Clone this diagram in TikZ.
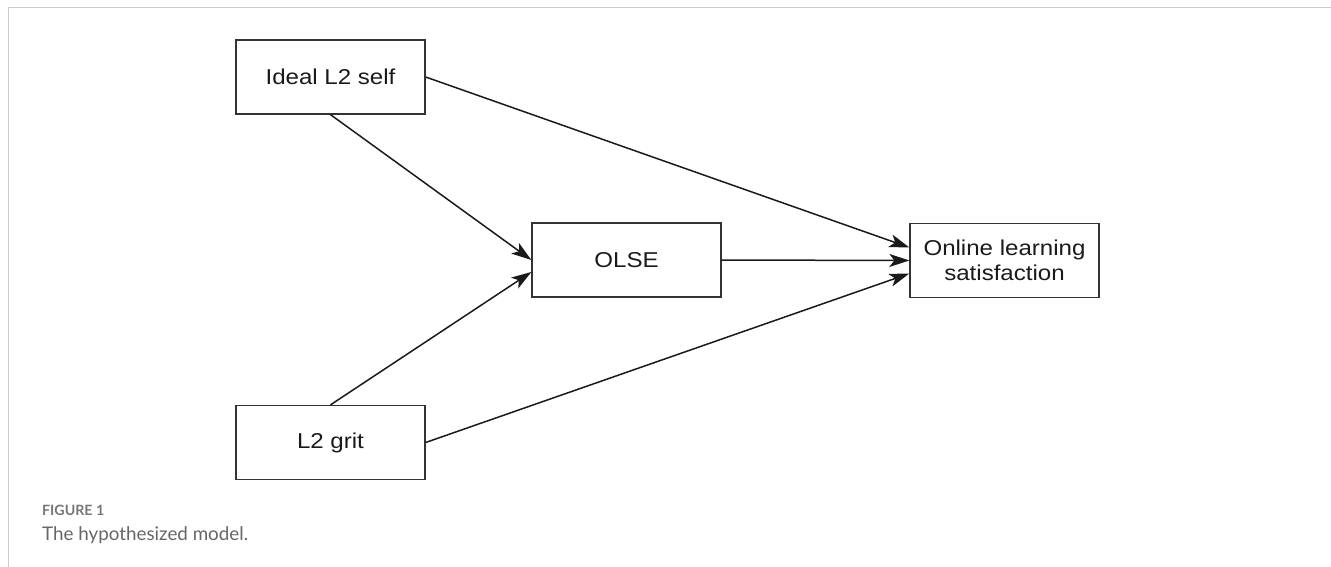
\documentclass[tikz,border=0pt]{standalone}
\usepackage{fontspec}
\usetikzlibrary{arrows.meta,calc}
\newfontfamily\nodefont[FakeStretch=1.12]{Liberation Sans}
\newfontfamily\capfont{Lato}
\definecolor{framegray}{HTML}{CCCCCC}
\definecolor{boxline}{HTML}{333333}
\definecolor{arrowcol}{HTML}{1A1A1A}
\definecolor{capgray}{HTML}{777777}
\definecolor{textgray}{HTML}{666666}
\begin{document}
\begin{tikzpicture}[x=1bp,y=-1bp,
  varbox/.style={draw=boxline, line width=1.3bp, rectangle, minimum width=189bp, minimum height=74bp,
    inner sep=0pt, align=center, font=\nodefont\fontsize{21.5bp}{25bp}\selectfont, text=arrowcol},
  path/.style={draw=arrowcol, line width=1.5bp, -{Stealth[length=20bp,width=13bp,inset=5bp]}}
]
\useasboundingbox (0,0) rectangle (1331,567);
\draw[framegray, line width=1.6bp] (8.5,567) -- (8.5,7.5) -- (1331,7.5);

\node[varbox] (ideal) at (330.5,77) {Ideal L2 self};
\node[varbox] (olse) at (626.5,260) {OLSE};
\node[varbox] (sat) at (1004.5,260.5) {Online learning\\satisfaction};
\node[varbox] (grit) at (330.5,442.5) {L2 grit};

\draw[path] (ideal.east) -- ($(sat.west)+(0,-13)$);
\draw[path] (ideal.south) -- (olse.west);
\draw[path] (grit.north) -- ($(olse.west)+(0,12)$);
\draw[path] (grit.east) -- ($(sat.west)+(0,13)$);
\draw[path] (olse.east) -- (sat.west);

\node[anchor=base west, inner sep=0pt, text=capgray, font=\capfont\bfseries\fontsize{14.2bp}{16bp}\selectfont] (figlab) at (42,515) {FIGURE 1};
\node[anchor=base west, inner sep=0pt, text=textgray, font=\capfont\fontsize{18.8bp}{22bp}\selectfont] (figcap) at (42,540) {The hypothesized model.};
\end{tikzpicture}
\end{document}
